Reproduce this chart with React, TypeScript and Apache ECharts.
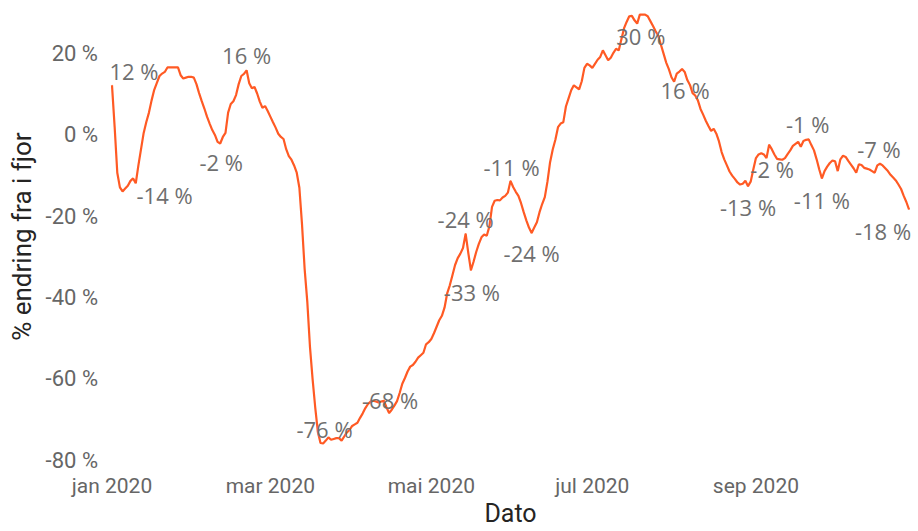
import React, { useEffect, useRef } from "react";
import * as echarts from "echarts";

const startDate = "2020-01-01";
const monthNames = ["jan", "feb", "mar", "apr", "mai", "jun", "jul", "aug", "sep", "okt", "nov", "des"];
const labelMonths = [1, 3, 5, 7, 9];
const yTicks = [-80, -60, -40, -20, 0, 20];

// daily % change vs previous year, from 2020-01-01
const values = [
  12.2, 2, -9.3, -12.9, -13.9, -13.2, -12.5, -11.3, -10.7, -11.9,
  -7.5, -3.5, 0.5, 3.2, 5.5, 8.5, 11.1, 12.8, 14.5, 15.1,
  15.5, 16.6, 16.6, 16.6, 16.6, 16.6, 14.7, 13.9, 14.1, 14.3,
  14.3, 14.1, 12.5, 10.3, 8.3, 6.5, 4.5, 2.8, 1.2, 0.0,
  -1.7, -2.1, -0.5, 0.5, 5.5, 7.6, 8.3, 9.8, 12.5, 14.5,
  15.0, 15.9, 12.7, 11.5, 11.8, 10.2, 8.2, 6.7, 7.1, 5.9,
  4.5, 3.1, 1.8, 0.3, -0.5, -1.0, -3.5, -5.2, -6.1, -7.5,
  -9.3, -13, -22, -33, -41, -52, -60, -67, -73, -75.8,
  -75.9, -75.2, -74.4, -75, -74.8, -74.6, -74.6, -75.2, -74.2, -73.2,
  -72.6, -71.6, -71.2, -70.8, -69.6, -68.5, -67.2, -66.2, -65.6, -65.4,
  -65.6, -65.8, -65.6, -65.4, -67, -68.4, -67.6, -66.6, -65.5, -63.5,
  -61.2, -59.8, -58.2, -57, -56.6, -55.8, -54.8, -54.2, -53.6, -51.5,
  -51, -50.2, -48.8, -47.2, -45.6, -44.5, -42.5, -39, -37, -34.5,
  -32, -30.3, -29.2, -27.8, -24.3, -29, -33.3, -31.2, -28.8, -26.8,
  -25.2, -24.5, -24.8, -22.5, -17.7, -16.2, -16.0, -16.1, -15.4, -15,
  -14.2, -11.3, -12.8, -14, -15, -16.8, -19, -21, -22.8, -24.1,
  -22.8, -21.5, -19, -17, -15.3, -11.5, -6.7, -3.6, -1.2, 1.9,
  2.8, 3.1, 7, 9, 11, 12.2, 11.7, 11.2, 13.2, 16.5,
  17.5, 17.1, 16.5, 17.5, 18.5, 19.2, 20.8, 19.6, 18.4, 19.0,
  20.2, 21.2, 20.8, 23.5, 26.2, 27.8, 29.2, 29.3, 28.2, 27.4,
  29.6, 29.6, 29.6, 29.2, 28, 26.8, 25.5, 24.4, 22.2, 20,
  17.8, 16.2, 14.2, 13.1, 15.1, 15.6, 16.2, 15.5, 13.5, 12.3,
  10.3, 9.7, 8.5, 6.4, 5, 3.5, 2.2, 1.0, 1.5, 0.3,
  -1.6, -4.2, -6, -7.5, -9, -10, -10.8, -11.7, -12.2, -12.0,
  -11.3, -12.6, -11.5, -8.5, -5.7, -4.8, -4.5, -4.8, -5.7, -2.4,
  -3.5, -4.8, -5.9, -6.0, -6.1, -5.7, -4.7, -3.8, -2.7, -2.2,
  -1.7, -2.9, -1.5, -1.2, -1.1, -2.5, -3.8, -6.0, -8.5, -10.7,
  -8.9, -7.8, -6.9, -6.3, -6.5, -8.9, -6.0, -5.1, -5.4, -6.4,
  -7.3, -8.2, -9.3, -7.2, -7.4, -8.1, -8.3, -8.5, -8.9, -9.3,
  -7.5, -7.1, -7.5, -8.2, -8.9, -9.8, -10.5, -11.2, -12.2, -13.3,
  -15, -16.5, -18.3,
];

// indices of labelled points
const labelIdx = [0, 4, 41, 51, 79, 105, 134, 136, 151, 159, 200, 216, 241, 249, 264, 269, 291, 302];
// label placement (pixel offset of label centre from the point)
const labelOffsets: Record<number, [number, number]> = {
  0: [22, -14], 4: [42, 4], 41: [1, 19], 51: [0, -15], 79: [4, -14], 105: [1, -13],
  134: [0, -15], 136: [1, 22], 151: [1, -14], 159: [0, 20], 200: [1, 21], 216: [3, 21],
  241: [0, 21], 249: [3, 24], 264: [-1, -15], 269: [0, 22], 291: [-1, -15], 302: [-26, 22],
};

const LINE = "#FF5A24";

function buildDates(): string[] {
  const [y, m, d] = startDate.split("-").map(Number);
  const t0 = Date.UTC(y, m - 1, d);
  return values.map((_, i) => {
    const dt = new Date(t0 + i * 86400000);
    const mm = String(dt.getUTCMonth() + 1).padStart(2, "0");
    const dd = String(dt.getUTCDate()).padStart(2, "0");
    return `${dt.getUTCFullYear()}-${mm}-${dd}`;
  });
}

export default function App() {
  const ref = useRef<HTMLDivElement>(null);
  useEffect(() => {
    if (!ref.current) return;
    const chart = echarts.init(ref.current, undefined, { renderer: "svg" });
    const dates = buildDates();
    const isLabelDate = (v: string) => {
      const [, mm, dd] = v.split("-").map(Number);
      return dd === 1 && labelMonths.includes(mm);
    };
    const data = values.map((v, i) => {
      if (!labelIdx.includes(i)) return v;
      const off = labelOffsets[i];
      const r = Math.round(v);
      return {
        value: v,
        symbol: "circle",
        symbolSize: 1,
        itemStyle: { color: LINE },
        label: {
          show: true,
          position: "inside",
          offset: off,
          formatter: `${r === 0 ? 0 : r} %`,
          fontFamily: "'Open Sans', 'Noto Sans', sans-serif",
          fontSize: 22,
          color: "#6f6f6f",
        },
      };
    });
    chart.setOption({
      animation: false,
      backgroundColor: "#ffffff",
      grid: { left: 112, right: 9, top: 13, bottom: 60, containLabel: false },
      xAxis: {
        type: "category",
        data: dates,
        boundaryGap: false,
        name: "Dato",
        nameLocation: "middle",
        nameGap: 39,
        nameTextStyle: { fontFamily: "Roboto, sans-serif", fontSize: 25, color: "#252423", verticalAlign: "top" },
        axisLine: { show: false },
        axisTick: { show: false },
        splitLine: { show: false },
        axisLabel: {
          interval: (_i: number, v: string) => isLabelDate(v),
          formatter: (v: string) => {
            const [yy, mm] = v.split("-").map(Number);
            return `${monthNames[mm - 1]} ${yy}`;
          },
          margin: 15,
          fontFamily: "Roboto, sans-serif",
          fontSize: 21,
          color: "#666666",
        },
      },
      yAxis: {
        type: "value",
        min: -80,
        max: 30,
        interval: 20,
        name: "% endring fra i fjor",
        nameLocation: "middle",
        nameGap: 76,
        nameTextStyle: { fontFamily: "Roboto, sans-serif", fontSize: 26, color: "#252423" },
        axisLine: { show: false },
        axisTick: { show: false },
        splitLine: { show: false },
        axisLabel: {
          margin: 14,
          fontFamily: "Roboto, sans-serif",
          fontSize: 22,
          color: "#666666",
          formatter: (v: number) => (yTicks.includes(v) ? `${v} %` : ""),
        },
      },
      series: [
        {
          type: "line",
          data,
          symbol: "none",
          showSymbol: true,
          showAllSymbol: true,
          lineStyle: { color: LINE, width: 2.2 },
          itemStyle: { color: LINE },
          emphasis: { disabled: true },
          z: 2,
        },
      ],
    });
    return () => chart.dispose();
  }, []);
  return (
    <div
      ref={ref}
      style={{ position: "fixed", left: 0, top: 0, width: 918, height: 531, background: "#fff" }}
    />
  );
}
